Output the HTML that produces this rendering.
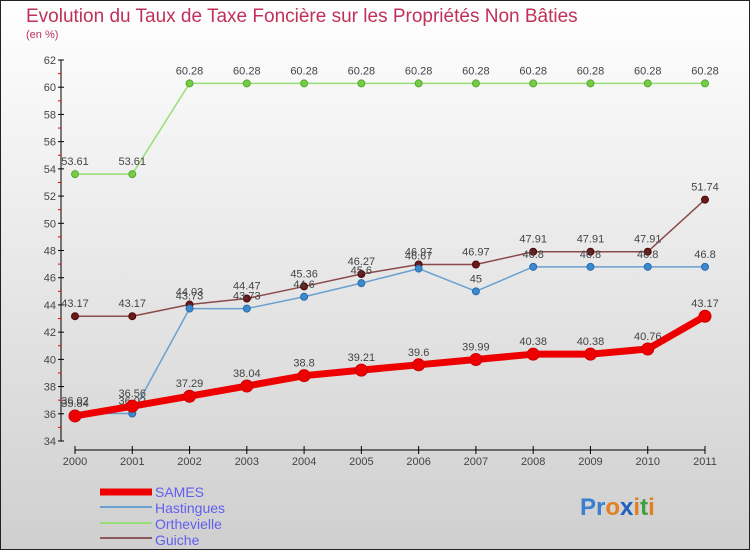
<!DOCTYPE html>
<html><head><meta charset="utf-8"><style>
body{margin:0}
#c{width:750px;height:550px;position:relative;overflow:hidden;font-family:"Liberation Sans",sans-serif}
</style></head><body>
<div id="c">
<svg id="s" width="750" height="550" xmlns="http://www.w3.org/2000/svg">
<defs><linearGradient id="bg" x1="0" y1="0" x2="0" y2="1"><stop offset="0" stop-color="#ffffff"/><stop offset="1" stop-color="#cfcfcf"/></linearGradient></defs>
<rect x="0.5" y="0.5" width="749" height="549" fill="url(#bg)" stroke="#222"/>
<text x="26" y="22" font-size="19" fill="#c0305a">Evolution du Taux de Taxe Foncière sur les Propriétés Non Bâties</text>
<text x="26" y="38" font-size="11" fill="#c0305a">(en %)</text>
<g id="axes"></g><g id="series"></g>
<g>
<line x1="100" y1="492" x2="152" y2="492" stroke="#ee0000" stroke-width="7"/>
<text x="155" y="497" font-size="14" fill="#6060ee">SAMES</text>
<line x1="100" y1="507" x2="152" y2="507" stroke="#6aa0d0" stroke-width="2"/>
<text x="155" y="513" font-size="14" fill="#6060ee">Hastingues</text>
<line x1="100" y1="523" x2="152" y2="523" stroke="#99dd77" stroke-width="2"/>
<text x="155" y="529" font-size="14" fill="#6060ee">Orthevielle</text>
<line x1="100" y1="538" x2="152" y2="538" stroke="#8a5a5a" stroke-width="2"/>
<text x="155" y="545" font-size="14" fill="#6060ee">Guiche</text>
</g>
<text x="580" y="515" font-size="24" font-weight="bold"><tspan fill="#3a7fd0">Pr</tspan><tspan fill="#e08020">o</tspan><tspan fill="#2060c0">x</tspan><tspan fill="#e08020">i</tspan><tspan fill="#40a040">t</tspan><tspan fill="#e08020">i</tspan></text>
</svg></div>
<script>
const years=[2000,2001,2002,2003,2004,2005,2006,2007,2008,2009,2010,2011];
const yTicks=[34,36,38,40,42,44,46,48,50,52,54,56,58,60,62];
const sames=[35.84,36.56,37.29,38.04,38.8,39.21,39.6,39.99,40.38,40.38,40.76,43.17];
const hastingues=[36.02,36.02,43.73,43.73,44.6,45.6,46.67,45,46.8,46.8,46.8,46.8];
const orthevielle=[53.61,53.61,60.28,60.28,60.28,60.28,60.28,60.28,60.28,60.28,60.28,60.28];
const guiche=[43.17,43.17,44.03,44.47,45.36,46.27,46.97,46.97,47.91,47.91,47.91,51.74];
const NS="http://www.w3.org/2000/svg";
const X=i=>75+i*(630/11);
const Y=v=>441-(v-34)*(381/28);
function mk(t,a,p){const e=document.createElementNS(NS,t);for(const k in a)e.setAttribute(k,a[k]);p.appendChild(e);return e;}
const ax=document.getElementById('axes');
let l=mk('line',{x1:61,y1:60,x2:61,y2:441,stroke:'#000'},ax);


l=mk('line',{x1:75,y1:450,x2:705,y2:450,stroke:'#000'},ax);


yTicks.forEach(v=>{
 mk('line',{x1:58,y1:Y(v),x2:64,y2:Y(v),stroke:'#000'},ax);
 if(v<62) mk('line',{x1:58,y1:Y(v+1),x2:61,y2:Y(v+1),stroke:'#e00'},ax);
 const t=mk('text',{x:56,y:Y(v)+4,'font-size':11,fill:'#444','text-anchor':'end'},ax);t.textContent=v;
 
 
});
years.forEach((y,i)=>{
 mk('line',{x1:X(i),y1:446,x2:X(i),y2:454,stroke:'#000'},ax);
 const t=mk('text',{x:X(i),y:465,'font-size':11,fill:'#444','text-anchor':'middle'},ax);t.textContent=y;
 
 
});
const sg=document.getElementById('series');
function series(d,name,col,w,r,dot,dotStroke){
 const g=mk('g',{},sg);
 
 
 mk('polyline',{points:d.map((v,i)=>X(i)+','+Y(v)).join(' '),fill:'none',stroke:col,'stroke-width':w,'stroke-linejoin':'round'},g);
 d.forEach((v,i)=>{
  const c=mk('circle',{cx:X(i),cy:Y(v),r:r,fill:dot,stroke:dotStroke,'stroke-width':1},g);
  
  
  const t=mk('text',{x:X(i),y:Y(v)-9,'font-size':11,fill:'#444','text-anchor':'middle'},g);t.textContent=v;
  
  
 });
}
series(orthevielle,'orthevielle','#99dd77',1.5,3.5,'#77cc44','#55aa33');
series(guiche,'guiche','#8a4a4a',1.5,3.5,'#6a1a1a','#4a0a0a');
series(hastingues,'hastingues','#6aa0d0',1.5,3.5,'#3a8ad0','#2a6aaa');
series(sames,'sames','#ee0000',7,6,'#ee0000','#cc0000');
</script>
</body></html>
